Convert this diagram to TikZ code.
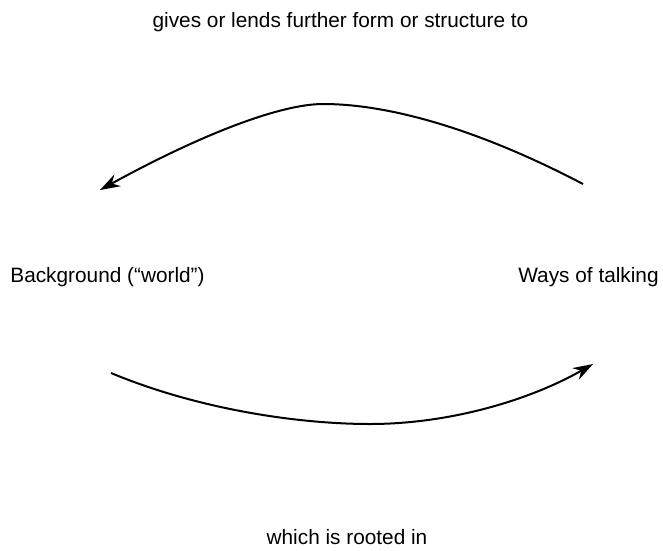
\documentclass[tikz,border=0pt]{standalone}
\usepackage{fontspec}
\setmainfont{Liberation Sans}
\usetikzlibrary{arrows.meta}
\tikzset{
  label text/.style={font=\fontsize{15.6}{18}\selectfont, inner sep=0pt},
  bend arrow/.style={line width=1.5pt, -{Stealth[length=15pt,width=10pt]}}
}
\begin{document}
\begin{tikzpicture}[x=0.75pt,y=-0.75pt]
\useasboundingbox (0,0) rectangle (663,550);
\node[label text] (lends) at (340.5,22) {gives or lends further form or structure to};
\node[label text] (background) at (107.5,277) {Background (``world'')};
\node[label text] (talking) at (588.5,277) {Ways of talking};
\node[label text] (rooted) at (347,537) {which is rooted in};

\coordinate (top start) at (583,184);
\coordinate (top peak) at (323,104);
\coordinate (top end) at (100,190);
\draw[bend arrow] (top start) .. controls (480,130) and (390,104) .. (top peak)
  .. controls (280,104) and (200,135) .. (top end);

\coordinate (low start) at (111,373);
\coordinate (low dip) at (370,424);
\coordinate (low end) at (593,364);
\draw[bend arrow] (low start) .. controls (200,410) and (300,424) .. (low dip)
  .. controls (450,424) and (530,400) .. (low end);
\end{tikzpicture}
\end{document}
